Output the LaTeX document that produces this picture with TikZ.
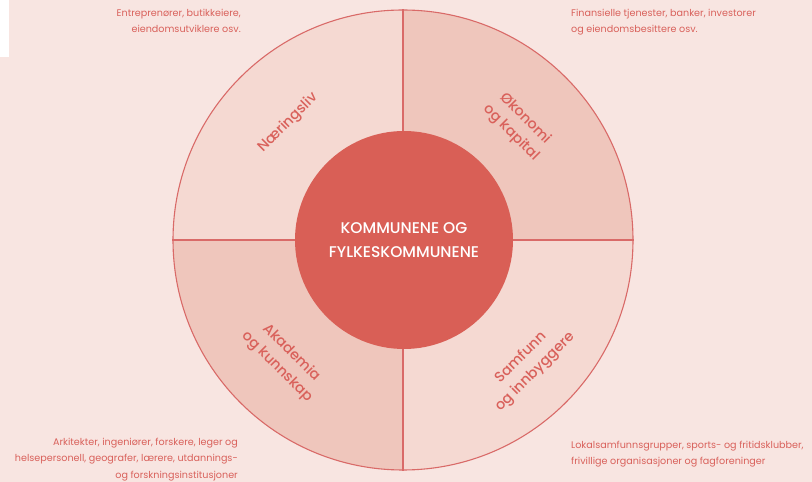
\documentclass[tikz,border=0pt]{standalone}
\usepackage{fontspec}
\setmainfont{Poppins}
\newfontfamily\pmed{Poppins Medium}
\definecolor{bgc}{HTML}{F8E5E1}
\definecolor{qlight}{HTML}{F5D9D2}
\definecolor{qdark}{HTML}{EFC6BC}
\definecolor{hubc}{HTML}{D95F56}
\definecolor{linec}{HTML}{D96A68}
\definecolor{txtc}{HTML}{D9615B}
\tikzset{
  note/.style={inner sep=0pt, text=txtc, font=\fontsize{9.6}{16.3}\selectfont},
  qlabel/.style={inner sep=0pt, text=txtc, align=center, font=\pmed\fontsize{14.3}{20}\selectfont},
  ring/.style={draw=linec, line width=1.1pt},
}
\begin{document}
\begin{tikzpicture}[x=1pt,y=1pt]
\useasboundingbox (0,0) rectangle (812,482);
\fill[bgc] (0,0) rectangle (812,482);
\fill[white] (0,425) rectangle (9,482);
\coordinate (C) at (403,242);
% quadrants
\fill[qlight] (C) -- ++(180:230) arc[start angle=180,end angle=90,radius=230] -- cycle;
\fill[qdark] (C) -- ++(90:230) arc[start angle=90,end angle=0,radius=230] -- cycle;
\fill[qlight] (C) -- ++(0:230) arc[start angle=0,end angle=-90,radius=230] -- cycle;
\fill[qdark] (C) -- ++(-90:230) arc[start angle=-90,end angle=-180,radius=230] -- cycle;
\node[circle, ring, minimum size=460pt, inner sep=0pt] (outer) at (C) {};
\draw[ring] (outer.north) -- (outer.south);
\draw[ring] (outer.west) -- (outer.east);
\node[circle, fill=hubc, minimum size=218pt, inner sep=0pt, text=white, align=center,
      font=\pmed\fontsize{15.5}{24}\selectfont] (hub) at (404,242) {KOMMUNENE OG\\FYLKESKOMMUNENE};
% quadrant labels
\node[qlabel, rotate=45] (naer) at (288,359) {Næringsliv};
\node[qlabel, rotate=-45] (okon) at (518,356) {Økonomi\\og kapital};
\node[qlabel, rotate=-45] (akad) at (284,122) {Akademia\\og kunnskap};
\node[qlabel, rotate=45] (samf) at (528,117) {Samfunn\\og innbyggere};
% notes
\node[note, anchor=north east, align=right] (n1) at (241,473) {Entreprenører, butikkeiere,\\eiendomsutviklere osv.};
\node[note, anchor=north west, align=left] (n2) at (571,473) {Finansielle tjenester, banker, investorer\\og eiendomsbesittere osv.};
\node[note, anchor=south east, align=right] (n3) at (238,1) {Arkitekter, ingeniører, forskere, leger og\\helsepersonell, geografer, lærere, utdannings-\\og forskningsinstitusjoner};
\node[note, anchor=north west, align=left] (n4) at (571,41) {Lokalsamfunnsgrupper, sports- og fritidsklubber,\\frivillige organisasjoner og fagforeninger};
\end{tikzpicture}
\end{document}
